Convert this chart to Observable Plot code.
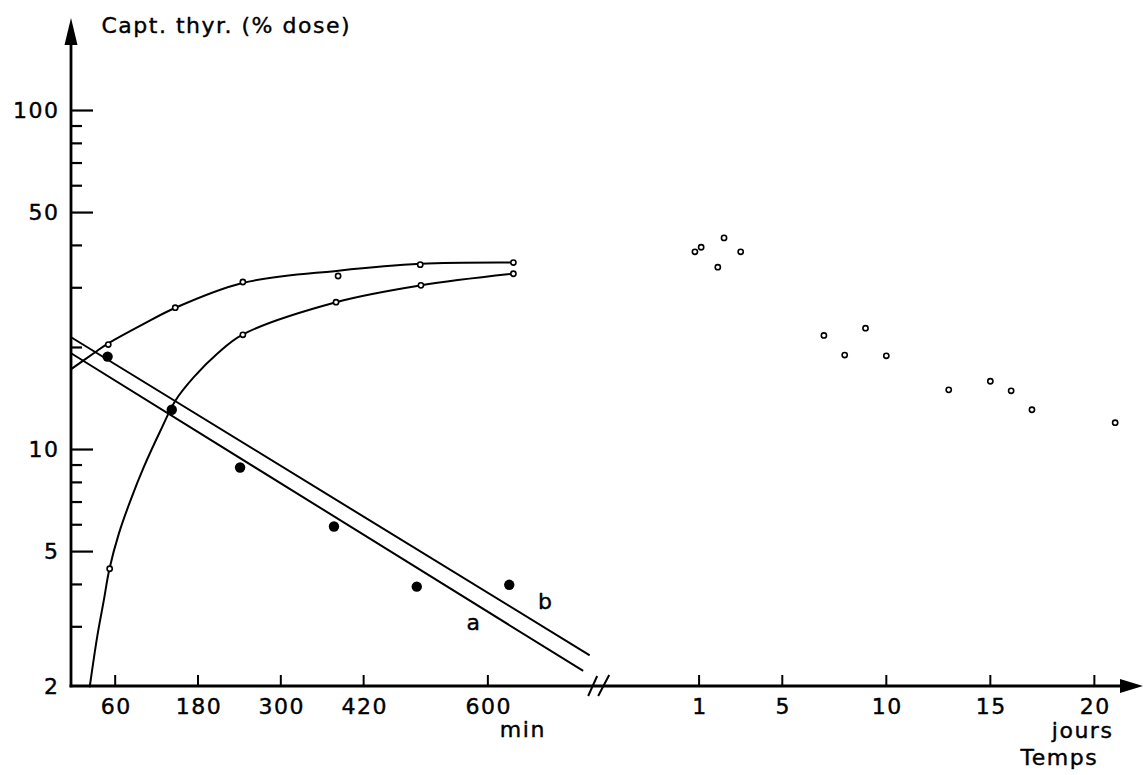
<!DOCTYPE html>
<html><head><meta charset="utf-8">
<script src="https://cdn.jsdelivr.net/npm/d3@7"></script>
<script src="https://cdn.jsdelivr.net/npm/@observablehq/plot@0.6"></script>
<style>html,body{margin:0;padding:0;background:#fff}svg{display:block}#chart svg text{letter-spacing:1.5px}</style>
</head><body><div id="chart"></div>
<script>
// ---- data ----
// minutes after dose / thyroid uptake (% dose)
const upperTimes  = [50, 147, 245, 383, 502, 637];
const upperValues = [20.4, 26.2, 31.2, 32.5, 35.1, 35.6];
const lowerTimes  = [52, 245, 380, 503, 637];
const lowerValues = [4.45, 21.8, 27.2, 30.5, 33.0];
const solidTimes  = [49, 142, 241, 377, 497, 631];
const solidValues = [18.8, 13.1, 8.85, 5.93, 3.94, 3.99];
// days after dose
const dayTimes  = [0.8, 1.1, 2.2, 1.9, 3.0, 7, 8, 9, 10, 13, 15, 16, 17, 21];
const dayValues = [38.3, 39.5, 42.1, 34.5, 38.3, 21.7, 19.0, 22.8, 18.9, 15.0, 15.9, 14.9, 13.1, 12.0];
// fitted curves (traced)
const upperCurveT = [-3.3, 30, 48.8, 100, 147.4, 244.5, 383.6, 502.5, 637.2];
const upperCurveV = [17.3, 19.3, 20.5, 23.4, 26.2, 31.0, 33.7, 35.3, 35.6];
const lowerCurveT = [23.2, 33.9, 43.5, 51.7, 65.2, 82.2, 101.4, 125.7, 147.4, 173.9, 207.8, 244, 380, 503, 637];
const lowerCurveV = [2.0, 2.80, 3.59, 4.45, 5.64, 7.08, 8.87, 11.38, 13.96, 16.35, 19.16, 21.8, 27.2, 30.5, 33.0];
// straight regression lines a and b
const lineAT = [-3.3, 737];   const lineAV = [19.2, 2.23];
const lineBT = [-3.3, 746.5]; const lineBV = [21.4, 2.48];
const lineLabels = ["a", "b"];
const lineLabelT = [580, 684];
const lineLabelV = [3.07, 3.54];
// ticks
const yTickMajor = [2, 5, 10, 50, 100];
const yTickMinor = [3, 4, 6, 7, 8, 9, 20, 30, 40, 60, 70, 80, 90];
const minuteTicks = [60, 180, 300, 420, 600];
const dayTicks = [1, 5, 10, 15, 20];
const yTitle = "Capt. thyr. (% dose)";
const minUnit = "min", dayUnit = "jours", timeTitle = "Temps";

// ---- broken time axis: minutes on the left, days on the right ----
const X0 = -3.3, X1 = 1550;          // in minute units
const DAY_ORIGIN = 875.9;            // day 0 expressed in minute units
const DAY_UNIT = 30.145;             // one day expressed in minute units
const BREAK_AT = 762;                // axis break position (minute units)
const dayX = d => DAY_ORIGIN + DAY_UNIT * d;
const Y_TOP = 186.8;

const zip = (a, b) => a.map((t, i) => ({t, v: b[i]}));
const FONT = "DejaVu Sans";
const TXT = {fontSize: 22, stroke: "#000", strokeWidth: 0.4, fill: "#000"};

function decorations(index, scales, values, dim) {
  const x0 = scales.x(X0), y0 = scales.y(2);
  const xr = dim.width - dim.marginRight;
  const yt = dim.marginTop;
  const g = d3.create("svg:g").attr("fill", "none").attr("stroke", "#000");
  g.append("line").attr("x1", x0).attr("y1", y0 + 1.3).attr("x2", x0).attr("y2", yt + 12).attr("stroke-width", 2.8);
  g.append("line").attr("x1", x0 - 1.4).attr("y1", y0).attr("x2", xr - 12).attr("y2", y0).attr("stroke-width", 2.8);
  g.append("path").attr("d", `M${x0},${yt}L${x0 + 6.5},${yt + 27}L${x0 - 6.5},${yt + 27}Z`).attr("fill", "#000").attr("stroke", "none");
  g.append("path").attr("d", `M${xr},${y0}L${xr - 23},${y0 + 7}L${xr - 23},${y0 - 7}Z`).attr("fill", "#000").attr("stroke", "none");
  const xb = scales.x(BREAK_AT);
  g.append("path").attr("d", `M${xb - 11},${y0 + 10}L${xb - 2},${y0 - 10}M${xb - 1},${y0 + 10}L${xb + 10},${y0 - 11}`).attr("stroke-width", 2);
  return g.node();
}

const plot = Plot.plot({
  width: 1144, height: 775,
  marginLeft: 71, marginRight: 1, marginTop: 18, marginBottom: 89,
  x: {type: "linear", domain: [X0, X1], axis: null},
  y: {type: "log", domain: [2, Y_TOP], axis: null},
  style: {fontFamily: FONT, fontSize: "22px", color: "#000", background: "#fff"},
  marks: [
    // y ticks (inward)
    Plot.ruleY(yTickMajor.filter(d => d > 2), {y: d => d, x1: X0, x2: X0 + 22 / 0.69, stroke: "#000", strokeWidth: 2.2}),
    Plot.ruleY(yTickMinor, {y: d => d, x1: X0, x2: X0 + 11 / 0.69, stroke: "#000", strokeWidth: 2.2}),
    Plot.text(yTickMajor, {x: X0, y: d => d, text: d => String(d), textAnchor: "end", dx: -12, ...TXT}),
    // x ticks
    Plot.ruleX(minuteTicks, {x: d => d, y1: 2, y2: 2 * Math.pow(10, 11 / 339), stroke: "#000", strokeWidth: 2}),
    Plot.ruleX(dayTicks, {x: dayX, y1: 2, y2: 2 * Math.pow(10, 11 / 339), stroke: "#000", strokeWidth: 2}),
    Plot.text(minuteTicks, {x: d => d, frameAnchor: "bottom", dy: 27, dx: 1, text: d => String(d), ...TXT}),
    Plot.text(dayTicks, {x: dayX, frameAnchor: "bottom", dy: 27, dx: 1, text: d => String(d), ...TXT}),
    Plot.text([minUnit], {x: 600, frameAnchor: "bottom", dx: 35, dy: 50, text: d => d, ...TXT}),
    Plot.text([dayUnit], {x: dayX(20), frameAnchor: "bottom", dx: 19, dy: 51, textAnchor: "end", text: d => d, ...TXT}),
    Plot.text([timeTitle], {x: dayX(20), frameAnchor: "bottom", dx: -35, dy: 78, text: d => d, ...TXT}),
    Plot.text([yTitle], {frameAnchor: "top-left", dx: 30, dy: -1, lineAnchor: "top", textAnchor: "start", text: d => d, ...TXT}),
    // lines a and b
    Plot.line(zip(lineAT, lineAV), {x: "t", y: "v", stroke: "#000", strokeWidth: 2}),
    Plot.line(zip(lineBT, lineBV), {x: "t", y: "v", stroke: "#000", strokeWidth: 2}),
    Plot.text(lineLabels, {x: (d, i) => lineLabelT[i], y: (d, i) => lineLabelV[i], text: d => d, ...TXT}),
    // fitted curves
    Plot.line(zip(upperCurveT, upperCurveV), {x: "t", y: "v", curve: "catmull-rom", stroke: "#000", strokeWidth: 2}),
    Plot.line(zip(lowerCurveT, lowerCurveV), {x: "t", y: "v", curve: "catmull-rom", stroke: "#000", strokeWidth: 2}),
    // points
    Plot.dot(zip(upperTimes, upperValues), {x: "t", y: "v", r: 2.6, fill: "#fff", stroke: "#000", strokeWidth: 1.6}),
    Plot.dot(zip(lowerTimes, lowerValues), {x: "t", y: "v", r: 2.6, fill: "#fff", stroke: "#000", strokeWidth: 1.6}),
    Plot.dot(zip(solidTimes, solidValues), {x: "t", y: "v", r: 5.2, fill: "#000", stroke: "none"}),
    Plot.dot(zip(dayTimes, dayValues), {x: d => dayX(d.t), y: "v", r: 2.6, fill: "#fff", stroke: "#000", strokeWidth: 1.6}),
    decorations
  ]
});
document.getElementById("chart").appendChild(plot);
</script>
</body></html>
